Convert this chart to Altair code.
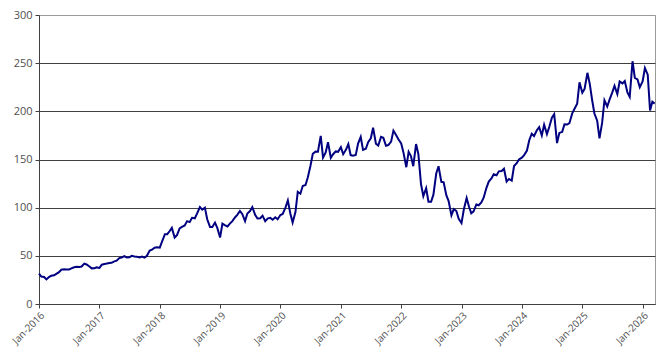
import altair as alt
import pandas as pd

# Semi-monthly samples (1st and 15th of each month), Jan 2016 - Mar 2026
v2016 = [31.5, 28.5, 28.0, 25.5, 28.0, 29.3, 29.8, 31.3, 33.0, 35.5, 36.0, 35.8,
         35.9, 37.0, 38.2, 38.7, 38.5, 38.9, 41.9, 41.0, 39.0, 37.0, 37.2, 38.0]
v2017 = [37.5, 40.8, 41.5, 42.0, 42.6, 42.7, 44.3, 45.0, 47.6, 48.3, 49.7, 48.2,
         48.4, 50.0, 49.3, 49.0, 48.3, 49.3, 48.1, 50.0, 55.5, 56.5, 58.5, 58.8]
v2018 = [58.5, 65.0, 72.5, 72.5, 75.5, 79.0, 69.0, 71.5, 78.5, 80.0, 81.5, 86.0,
         85.0, 89.5, 89.0, 94.0, 100.6, 98.0, 100.0, 88.0, 80.0, 80.0, 84.5, 79.0]
v2019 = [69.0, 83.5, 81.7, 80.5, 83.5, 85.7, 89.8, 92.5, 96.5, 93.5, 86.0, 94.0,
         96.5, 100.6, 92.5, 88.7, 89.0, 91.7, 86.0, 88.7, 89.4, 87.5, 90.0, 88.0]
v2020 = [92.4, 93.5, 100.4, 107.5, 94.0, 84.5, 95.5, 116.5, 114.5, 122.5, 123.5, 131.5,
         143.5, 156.0, 158.2, 158.0, 174.5, 152.0, 157.4, 168.0, 151.8, 155.5, 158.4, 158.0]
v2021 = [162.8, 155.5, 160.3, 166.0, 154.6, 154.0, 154.7, 166.5, 173.4, 160.0, 161.2, 168.0,
         172.0, 183.0, 166.4, 164.5, 173.5, 172.5, 164.3, 165.0, 168.6, 180.0, 175.4, 171.0]
v2022 = [166.7, 157.0, 142.0, 158.0, 153.6, 143.0, 166.0, 155.5, 124.3, 112.0, 120.2, 106.2,
         106.2, 113.5, 135.4, 143.0, 126.8, 126.3, 113.0, 106.9, 92.0, 98.5, 96.5, 88.5]
v2023 = [84.0, 98.1, 110.0, 101.2, 94.2, 96.2, 103.3, 102.5, 105.5, 110.3, 120.6, 127.1,
         130.4, 134.7, 133.7, 137.7, 138.0, 140.4, 127.1, 129.8, 128.0, 143.2, 146.1, 150.0]
v2024 = [151.9, 154.6, 159.3, 170.0, 176.8, 174.4, 180.4, 183.6, 175.0, 186.0, 176.4, 183.7,
         193.3, 197.0, 167.0, 177.6, 178.5, 186.5, 186.3, 187.7, 197.9, 202.6, 207.9, 230.1]
v2025 = [219.4, 223.4, 240.0, 228.7, 212.3, 198.0, 190.3, 172.0, 188.0, 211.5, 205.0, 212.1,
         219.4, 226.4, 218.0, 231.0, 229.0, 231.4, 219.6, 215.0, 252.0, 234.7, 233.2, 225.0]
v2026 = [231.0, 245.0, 238.0, 201.0, 210.0, 208.0]

values = v2016 + v2017 + v2018 + v2019 + v2020 + v2021 + v2022 + v2023 + v2024 + v2025 + v2026
dates = pd.date_range("2016-01-01", periods=len(values), freq="SMS")

df = pd.DataFrame({"date": dates, "value": values})

y_ticks = [0, 50, 100, 150, 200, 250, 300]

chart = alt.Chart(df).mark_line(color="#000080", strokeWidth=2).encode(
    x=alt.X("date:T",
            scale=alt.Scale(domain=["2016-01-01", "2026-03-17"]),
            axis=alt.Axis(title=None, format="%b-%Y",
                          tickCount={"interval": "year", "step": 1},
                          labelAngle=-45, labelAlign="right", labelBaseline="top",
                          labelFontSize=10,
                          grid=False, labelPadding=2, tickSize=4,
                          domainColor="#404040", tickColor="#404040")),
    y=alt.Y("value:Q",
            scale=alt.Scale(domain=[0, 300], nice=False),
            axis=alt.Axis(title=None, values=y_ticks, grid=True,
                          gridColor={"condition": {"test": "datum.value === 300", "value": "#9a9a9a"},
                                     "value": "#404040"},
                          tickSize=4, labelPadding=3,
                          domainColor="#404040", tickColor="#404040")),
).properties(
    width=616, height=289,
    autosize=alt.AutoSizeParams(type="none"),
    padding={"left": 31, "top": 7, "right": 2, "bottom": 45},
).configure_view(
    stroke="#9a9a9a", strokeWidth=1
).configure_axis(
    labelFont="Open Sans", labelFontSize=11, labelColor="#505050",
    gridWidth=1, domainWidth=1,
)

chart.save("out.html", embed_options={"renderer": "svg", "actions": False})
